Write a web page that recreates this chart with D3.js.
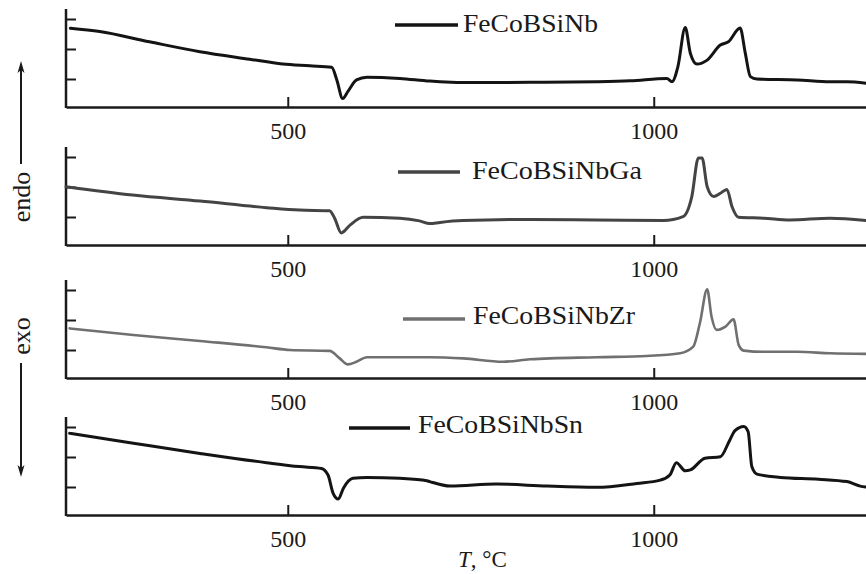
<!DOCTYPE html>
<html>
<head>
<meta charset="utf-8">
<script src="https://cdn.jsdelivr.net/npm/d3@7"></script>
<style>
  html, body { margin: 0; padding: 0; background: #fff; }
  svg { display: block; }
  text { font-family: "Liberation Serif", "Times New Roman", "DejaVu Serif", serif; fill: #1a1a1a; }
</style>
</head>
<body>
<svg id="chart" width="866" height="574"></svg>
<script>
// ---------- data ----------
const seriesNames = ["FeCoBSiNb", "FeCoBSiNbGa", "FeCoBSiNbZr", "FeCoBSiNbSn"];
const xTicks = [500, 1000];
const xTickLabels = ["500", "1000"];
const yTicks = [1, 2, 3];

const temp1 = [203,243,311,380,448,493,530,560,567,575,582,594,608,653,694,708,753,831,922,968,1018,1025,1033,1043,1050,1059,1073,1091,1102,1118,1125,1132,1141,1196,1241,1264,1290];
const sig1  = [2.69,2.58,2.24,1.91,1.66,1.50,1.44,1.39,0.97,0.35,0.58,0.97,1.06,1.02,0.93,0.91,0.88,0.89,0.91,0.94,1.02,0.91,1.41,2.72,1.86,1.50,1.63,2.13,2.24,2.70,1.87,1.08,1.00,0.97,0.91,0.91,0.86];

const temp2 = [197,288,380,471,516,557,564,573,585,603,653,680,694,708,739,831,922,1013,1040,1052,1061,1066,1073,1082,1091,1100,1107,1116,1150,1186,1241,1290];
const sig2  = [2.01,1.73,1.53,1.31,1.23,1.21,0.96,0.47,0.73,0.99,0.96,0.87,0.78,0.82,0.88,0.92,0.90,0.88,1.01,1.68,2.97,2.97,2.01,1.68,1.79,1.92,1.34,0.99,0.96,0.90,0.96,0.88];

const temp3 = [202,289,380,471,503,557,571,582,594,608,653,694,740,794,831,922,990,1036,1054,1063,1073,1079,1086,1098,1109,1116,1123,1150,1196,1241,1290];
const sig3  = [1.72,1.50,1.30,1.09,1.00,0.97,0.72,0.52,0.61,0.76,0.76,0.76,0.72,0.61,0.69,0.76,0.80,0.89,1.11,1.89,3.02,2.11,1.67,1.78,2.02,1.17,0.98,0.94,0.94,0.89,0.87];

const temp4 = [202,289,380,471,516,546,555,562,569,576,589,608,653,690,694,722,785,854,922,977,1009,1022,1031,1043,1050,1070,1091,1104,1111,1123,1129,1134,1141,1173,1225,1264,1282,1290];
const sig4  = [2.79,2.46,2.12,1.81,1.68,1.62,1.40,0.79,0.60,0.96,1.29,1.32,1.29,1.21,1.18,1.03,1.10,1.03,0.99,1.12,1.23,1.40,1.81,1.54,1.57,1.96,2.01,2.57,2.88,3.02,2.84,1.68,1.43,1.32,1.26,1.18,1.03,1.00];

const temps = [temp1, temp2, temp3, temp4];
const sigs = [sig1, sig2, sig3, sig4];

// ---------- layout / style ----------
const W = 866, H = 574;
const axisX = 66;
const panelTops = [9, 147, 280, 417];
const panelH = 98;
const colors = ["#141414", "#444444", "#707070", "#141414"];
const widths = [3, 3, 2.6, 3];
const legendPos = [
  {x1: 395, x2: 458, ly: 16, tx: 463, ty: 23, tw: 135},
  {x1: 398, x2: 460, ly: 25, tx: 472, ty: 32, tw: 170},
  {x1: 403, x2: 465, ly: 39, tx: 473, ty: 44, tw: 162},
  {x1: 349, x2: 410, ly: 11, tx: 418, ty: 16, tw: 165}
];
const axisColor = "#1a1a1a";

const svg = d3.select("#chart");
const x = d3.scaleLinear().domain([197, 1290]).range([axisX, W]);

seriesNames.forEach((name, i) => {
  const g = svg.append("g").attr("transform", `translate(0,${panelTops[i]})`);
  const y = d3.scaleLinear().domain([2/30, 100/30]).range([panelH, 0]);

  // left axis (ticks inside, no labels)
  const ya = g.append("g").attr("transform", `translate(${axisX},0)`)
    .call(d3.axisRight(y).tickValues(yTicks).tickSize(10).tickFormat(""));
  ya.select(".domain").remove();
  ya.selectAll(".tick line").attr("stroke", axisColor).attr("stroke-width", 2);
  g.append("line").attr("x1", axisX).attr("x2", axisX).attr("y1", 0).attr("y2", panelH + 1)
    .attr("stroke", axisColor).attr("stroke-width", 2.5);

  // bottom axis
  const xa = g.append("g").attr("transform", `translate(0,${panelH})`)
    .call(d3.axisBottom(x).tickValues(xTicks).tickSizeInner(-10).tickSizeOuter(0)
      .tickFormat((d, k) => xTickLabels[k]));
  xa.select(".domain").attr("stroke", axisColor).attr("stroke-width", 2.5);
  xa.selectAll(".tick line").attr("stroke", axisColor).attr("stroke-width", 2);
  xa.selectAll(".tick text").attr("y", 32).attr("dy", null)
    .attr("font-size", 24).attr("font-family", "'Liberation Serif', 'Times New Roman', serif")
    .attr("fill", "#1a1a1a");

  // curve
  const pts = temps[i].map((t, k) => [t, sigs[i][k]]);
  const line = d3.line().x(d => x(d[0])).y(d => y(d[1])).curve(d3.curveMonotoneX);
  g.append("path").datum(pts).attr("d", line)
    .attr("fill", "none").attr("stroke", colors[i]).attr("stroke-width", widths[i])
    .attr("stroke-linejoin", "round").attr("stroke-linecap", "round");

  // legend
  const lp = legendPos[i];
  g.append("line").attr("x1", lp.x1).attr("x2", lp.x2).attr("y1", lp.ly).attr("y2", lp.ly)
    .attr("stroke", colors[i]).attr("stroke-width", 3.5);
  g.append("text").attr("x", lp.tx).attr("y", lp.ty).attr("font-size", 26)
    .attr("textLength", lp.tw).attr("lengthAdjust", "spacingAndGlyphs")
    .text(name);
});

// x axis title
const xt = svg.append("text").attr("x", 458).attr("y", 567).attr("font-size", 23);
xt.append("tspan").attr("font-style", "italic").text("T");
xt.append("tspan").text(", °C");

// endo / exo arrows
function arrow(x0, yFrom, yTo) {
  svg.append("line").attr("x1", x0).attr("x2", x0).attr("y1", yFrom)
    .attr("y2", yTo + (yTo < yFrom ? 8 : -8))
    .attr("stroke", "#1a1a1a").attr("stroke-width", 2);
  const dir = yTo < yFrom ? 1 : -1;
  svg.append("path")
    .attr("d", `M${x0},${yTo} L${x0 - 3.5},${yTo + dir * 12} L${x0},${yTo + dir * 9} L${x0 + 3.5},${yTo + dir * 12} Z`)
    .attr("fill", "#1a1a1a");
}
arrow(21, 164, 61);
arrow(21, 363, 477);

svg.append("text").attr("transform", "translate(30,197) rotate(-90)")
  .attr("text-anchor", "middle").attr("font-size", 26).text("endo");
svg.append("text").attr("transform", "translate(30,336) rotate(-90)")
  .attr("text-anchor", "middle").attr("font-size", 26).text("exo");
</script>
</body>
</html>
